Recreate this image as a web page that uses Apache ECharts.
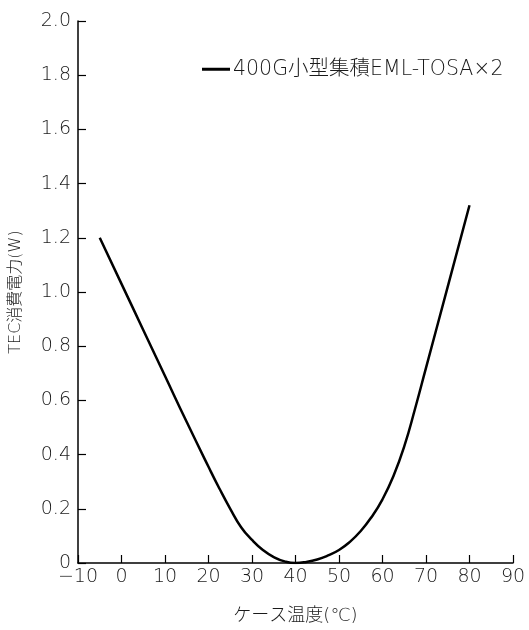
<!DOCTYPE html>
<html>
<head>
<meta charset="utf-8">
<script src="https://cdn.jsdelivr.net/npm/echarts@6/dist/echarts.min.js"></script>
<style>
html,body{margin:0;padding:0;background:#fff;}
#chart{width:529px;height:630px;}
</style>
</head>
<body>
<div id="chart"></div>
<script>
const seriesName = '400G小型集積EML-TOSA×2';
const temperature = [-5, 0, 5, 10, 15, 20, 22.5, 25, 27.5, 30, 32.5, 35, 37.5, 40, 42.5, 45, 47.5, 50, 52.5, 55, 57.5, 60, 62.5, 65, 67.5, 70, 75, 80];
const tecPower = [1.20, 1.03, 0.86, 0.69, 0.52, 0.355, 0.275, 0.20, 0.132, 0.085, 0.048, 0.022, 0.006, 0.0, 0.004, 0.013, 0.028, 0.048, 0.078, 0.118, 0.17, 0.235, 0.32, 0.43, 0.57, 0.72, 1.02, 1.32];
const xAxisName = 'ケース温度(℃)';
const yAxisName = 'TEC消費電力(W)';

const FONT = '"DejaVu Sans", "Noto Sans CJK JP", sans-serif';
const TXT = '#1a1a1a';

const chart = echarts.init(document.getElementById('chart'), null, {renderer: 'canvas'});
chart.setOption({
  animation: false,
  backgroundColor: '#fff',
  grid: {left: 77, right: 16, top: 21, bottom: 54},
  legend: {
    data: [{name: seriesName, icon: 'rect'}],
    left: 197, top: 54,
    itemWidth: 28, itemHeight: 3, itemGap: 4,
    textStyle: {fontFamily: FONT, fontSize: 20.5, fontWeight: 200, color: TXT, padding: [0,0,0,-2]}
  },
  xAxis: {
    type: 'value', min: -10, max: 90, interval: 10,
    name: xAxisName, nameLocation: 'middle', nameGap: 44,
    nameTextStyle: {fontFamily: FONT, fontSize: 18, fontWeight: 200, color: TXT},
    axisLine: {show: true, onZero: false, lineStyle: {color: '#000', width: 1.5}},
    axisTick: {show: true, inside: true, length: 8, lineStyle: {color: '#000', width: 1.2}},
    axisLabel: {fontFamily: FONT, fontSize: 19, fontWeight: 200, color: TXT, margin: 5,
      formatter: v => String(v).replace('-', '−')},
    splitLine: {show: false}
  },
  yAxis: {
    type: 'value', min: 0, max: 2.0, interval: 0.2,
    name: yAxisName, nameLocation: 'middle', nameGap: 54,
    nameTextStyle: {fontFamily: FONT, fontSize: 16, fontWeight: 200, color: TXT},
    axisLine: {show: true, onZero: false, lineStyle: {color: '#000', width: 1.5}},
    axisTick: {show: true, inside: true, length: 8, lineStyle: {color: '#000', width: 1.2}},
    axisLabel: {fontFamily: FONT, fontSize: 19, fontWeight: 200, color: TXT, margin: 7,
      formatter: v => v === 0 ? '0' : v.toFixed(1)},
    splitLine: {show: false}
  },
  series: [{
    name: seriesName,
    type: 'line',
    data: temperature.map((t, i) => [t, tecPower[i]]),
    smooth: 0.5,
    showSymbol: false,
    symbol: 'none',
    lineStyle: {color: '#000', width: 2.5},
    itemStyle: {color: '#000'}
  }]
});
</script>
</body>
</html>
